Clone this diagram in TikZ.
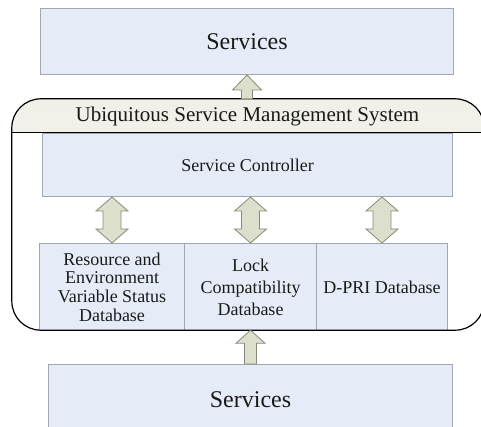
\documentclass[tikz,border=0pt]{standalone}
\usepackage{fontspec}
\setmainfont{Liberation Serif}
\usetikzlibrary{calc}
\definecolor{boxfill}{HTML}{E6ECF7}
\definecolor{boxline}{HTML}{A3A6AD}
\definecolor{arrfill}{HTML}{DCDFCB}
\definecolor{arrline}{HTML}{858A78}
\definecolor{headtop}{HTML}{F0F0E8}
\definecolor{headbot}{HTML}{FBFBF8}
\definecolor{txt}{HTML}{1A1A1A}
% base, tip, shaft half width, head half width, head length
\newcommand\blockup[5]{%
  \draw[arrowsty] ($#1+(-#3,0)$) -- ($#2+(-#3,#5)$) -- ($#2+(-#4,#5)$) -- #2
    -- ($#2+(#4,#5)$) -- ($#2+(#3,#5)$) -- ($#1+(#3,0)$) -- cycle;}
% top tip, bottom tip, shaft half width, head half width, head length
\newcommand\blockdouble[5]{%
  \draw[arrowsty] #1 -- ($#1+(#4,#5)$) -- ($#1+(#3,#5)$) -- ($#2+(#3,-#5)$)
    -- ($#2+(#4,-#5)$) -- #2 -- ($#2+(-#4,-#5)$) -- ($#2+(-#3,-#5)$)
    -- ($#1+(-#3,#5)$) -- ($#1+(-#4,#5)$) -- cycle;}
\begin{document}
\begin{tikzpicture}[x=1pt,y=-1pt,
  bluebox/.style={draw=boxline, fill=boxfill, line width=1pt, inner sep=0pt,
    anchor=north west, text=txt, align=center},
  arrowsty/.style={draw=arrline, fill=arrfill, line width=0.8pt, line join=miter}]
\useasboundingbox (0,0) rectangle (481,427);

% top and bottom services
\node[bluebox, minimum width=413pt, minimum height=66pt,
  font=\fontsize{24}{26}\selectfont] (top) at (40,8) {Services};
\node[bluebox, minimum width=404pt, minimum height=70pt,
  font=\fontsize{24}{26}\selectfont] (bot) at (48,364) {Services};

% system container
\node[minimum width=472pt, minimum height=231pt, inner sep=0pt] (usms) at (248,214.5) {};
\begin{scope}
  \clip (0,99) rectangle (490,133);
  \shade[top color=headtop, bottom color=headbot, rounded corners=29pt]
    (usms.south west) rectangle (usms.north east);
\end{scope}
\node[text=txt, font=\fontsize{21}{23}\selectfont] (hdr) at (247.5,116)
  {Ubiquitous Service Management System};

% service controller
\node[bluebox, minimum width=410pt, minimum height=63pt,
  font=\fontsize{18}{20}\selectfont] (ctrl) at (42,133) {Service Controller};

% databases
\node[bluebox, minimum width=145pt, minimum height=87pt,
  font=\fontsize{18}{18.7}\selectfont] (db1) at (39,243)
  {Resource and\\Environment\\Variable Status\\Database};
\node[bluebox, minimum width=132pt, minimum height=87pt,
  font=\fontsize{18}{22}\selectfont] (db2) at (184,243)
  {Lock\\Compatibility\\Database};
\node[bluebox, minimum width=131pt, minimum height=87pt,
  font=\fontsize{18}{20}\selectfont] (db3) at (316,243)
  {D-PRI Database};

% container border and header line
\draw[line width=1.2pt, rounded corners=29pt]
  (usms.south west) rectangle (usms.north east);
\draw[line width=1pt] (usms.west |- ctrl.north) -- (usms.east |- ctrl.north);

% arrows
\coordinate (a0) at (top.south |- usms.north);
\blockup{(a0)}{(top.south)}{5.5}{14.5}{15}
\coordinate (b0) at (bot.north |- usms.south);
\blockup{(bot.north)}{(b0)}{6}{14.5}{13}
\coordinate (d1) at (db1.north |- ctrl.south);
\coordinate (d2) at (db2.north |- ctrl.south);
\coordinate (d3) at (db3.north |- ctrl.south);
\blockdouble{(d1)}{(db1.north)}{9}{16}{14}
\blockdouble{(d2)}{(db2.north)}{9}{16}{14}
\blockdouble{(d3)}{(db3.north)}{9}{16}{14}
\end{tikzpicture}
\end{document}
